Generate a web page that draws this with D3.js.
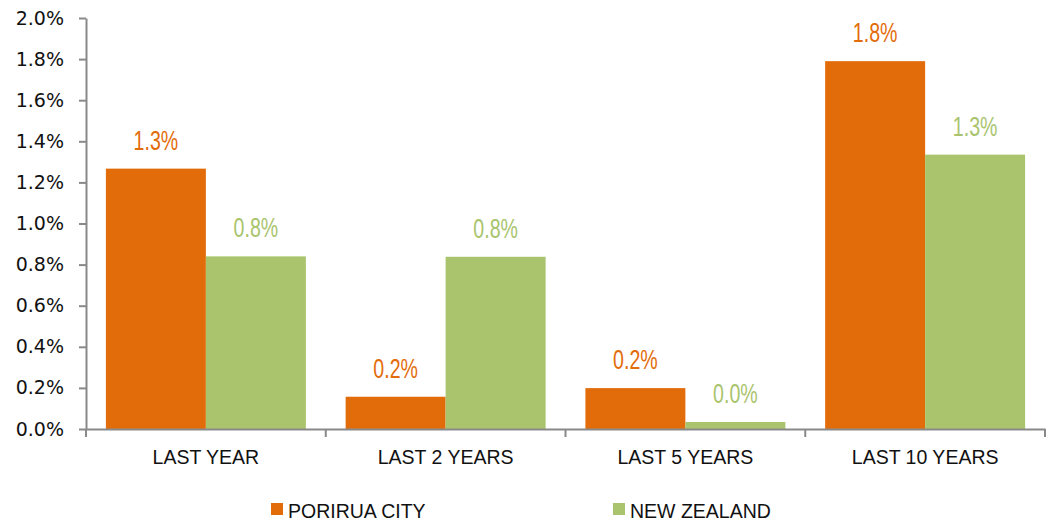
<!DOCTYPE html>
<html><head><meta charset="utf-8">
<script src="https://cdn.jsdelivr.net/npm/d3@7"></script>
<style>body{margin:0;background:#fff}svg{display:block}</style>
</head><body>
<svg id="c" width="1049" height="527"></svg>
<script>
const categories = ["LAST YEAR","LAST 2 YEARS","LAST 5 YEARS","LAST 10 YEARS"];
const seriesNames = ["PORIRUA CITY","NEW ZEALAND"];
const porirua = [1.267, 0.157, 0.199, 1.79];
const newZealand = [0.84, 0.838, 0.034, 1.335];
const yTicks = [0,0.2,0.4,0.6,0.8,1.0,1.2,1.4,1.6,1.8,2.0];
const colors = ["#E36C0A","#A9C46C"];

const svg = d3.select("#c");
const m = {l:86, r:1045, t:18, b:429};
const x = d3.scaleBand().domain(categories).range([m.l, m.r]).paddingInner(0).paddingOuter(0);
const xs = d3.scaleBand().domain(seriesNames).range([0, x.bandwidth()]).paddingInner(0).paddingOuter(0.199);
const y = d3.scaleLinear().domain([0,2]).range([m.b, m.t]);
const data = [porirua, newZealand];

// bars
seriesNames.forEach((s,si)=>{
  svg.append("g").selectAll("rect").data(categories).join("rect")
    .attr("x", c=>x(c)+xs(s)).attr("width", xs.bandwidth())
    .attr("y", (c,i)=>y(data[si][i])).attr("height",(c,i)=>y(0)-y(data[si][i]))
    .attr("fill", colors[si]);
  svg.append("g").selectAll("text").data(categories).join("text")
    .attr("transform", (c,i)=>`translate(${x(c)+xs(s)+xs.bandwidth()/2},${y(data[si][i])-19}) scale(0.7,1)`)
    .attr("text-anchor","middle")
    .attr("font-family","'Liberation Sans',Arial,sans-serif")
    .attr("font-size",28)
    .attr("fill", colors[si])
    .text((c,i)=>data[si][i].toFixed(1)+"%");
});

// y axis
const ya = svg.append("g").attr("transform",`translate(${m.l},0)`)
  .call(d3.axisLeft(y).tickValues(yTicks).tickFormat(d=>d.toFixed(1)+"%").tickSize(7).tickSizeOuter(0));
ya.select(".domain").attr("stroke","#898989").attr("stroke-width",2);
ya.selectAll(".tick line").attr("stroke","#898989").attr("stroke-width",2);
ya.selectAll(".tick text").attr("font-family","'DejaVu Sans',sans-serif").attr("font-size",19).attr("fill","#111").attr("x",-22);

// x axis
const xa = svg.append("g").attr("transform",`translate(0,${m.b})`)
  .call(d3.axisBottom(x).tickSize(0).tickSizeOuter(0));
xa.select(".domain").attr("stroke","#898989").attr("stroke-width",2);
xa.selectAll(".tick text").attr("font-family","'Liberation Sans',Arial,sans-serif").attr("font-size",19.5).attr("fill","#111").attr("y",21).attr("dy","0.71em");
const bounds = categories.map(c=>x(c)).concat([x(categories[categories.length-1])+x.bandwidth()]);
svg.append("g").selectAll("line").data(bounds).join("line")
  .attr("x1",d=>d).attr("x2",d=>d).attr("y1",m.b).attr("y2",m.b+8)
  .attr("stroke","#898989").attr("stroke-width",2);

// legend
const legX = [271, 613];
const lg = svg.append("g").selectAll("g").data(seriesNames).join("g")
  .attr("transform",(d,i)=>`translate(${legX[i]},503)`);
lg.append("rect").attr("width",12).attr("height",12).attr("fill",(d,i)=>colors[i]);
lg.append("text").attr("x",17).attr("y",15).attr("font-family","'Liberation Sans',Arial,sans-serif")
  .attr("font-size",19.5).attr("fill","#111").text(d=>d);
</script>
</body></html>
